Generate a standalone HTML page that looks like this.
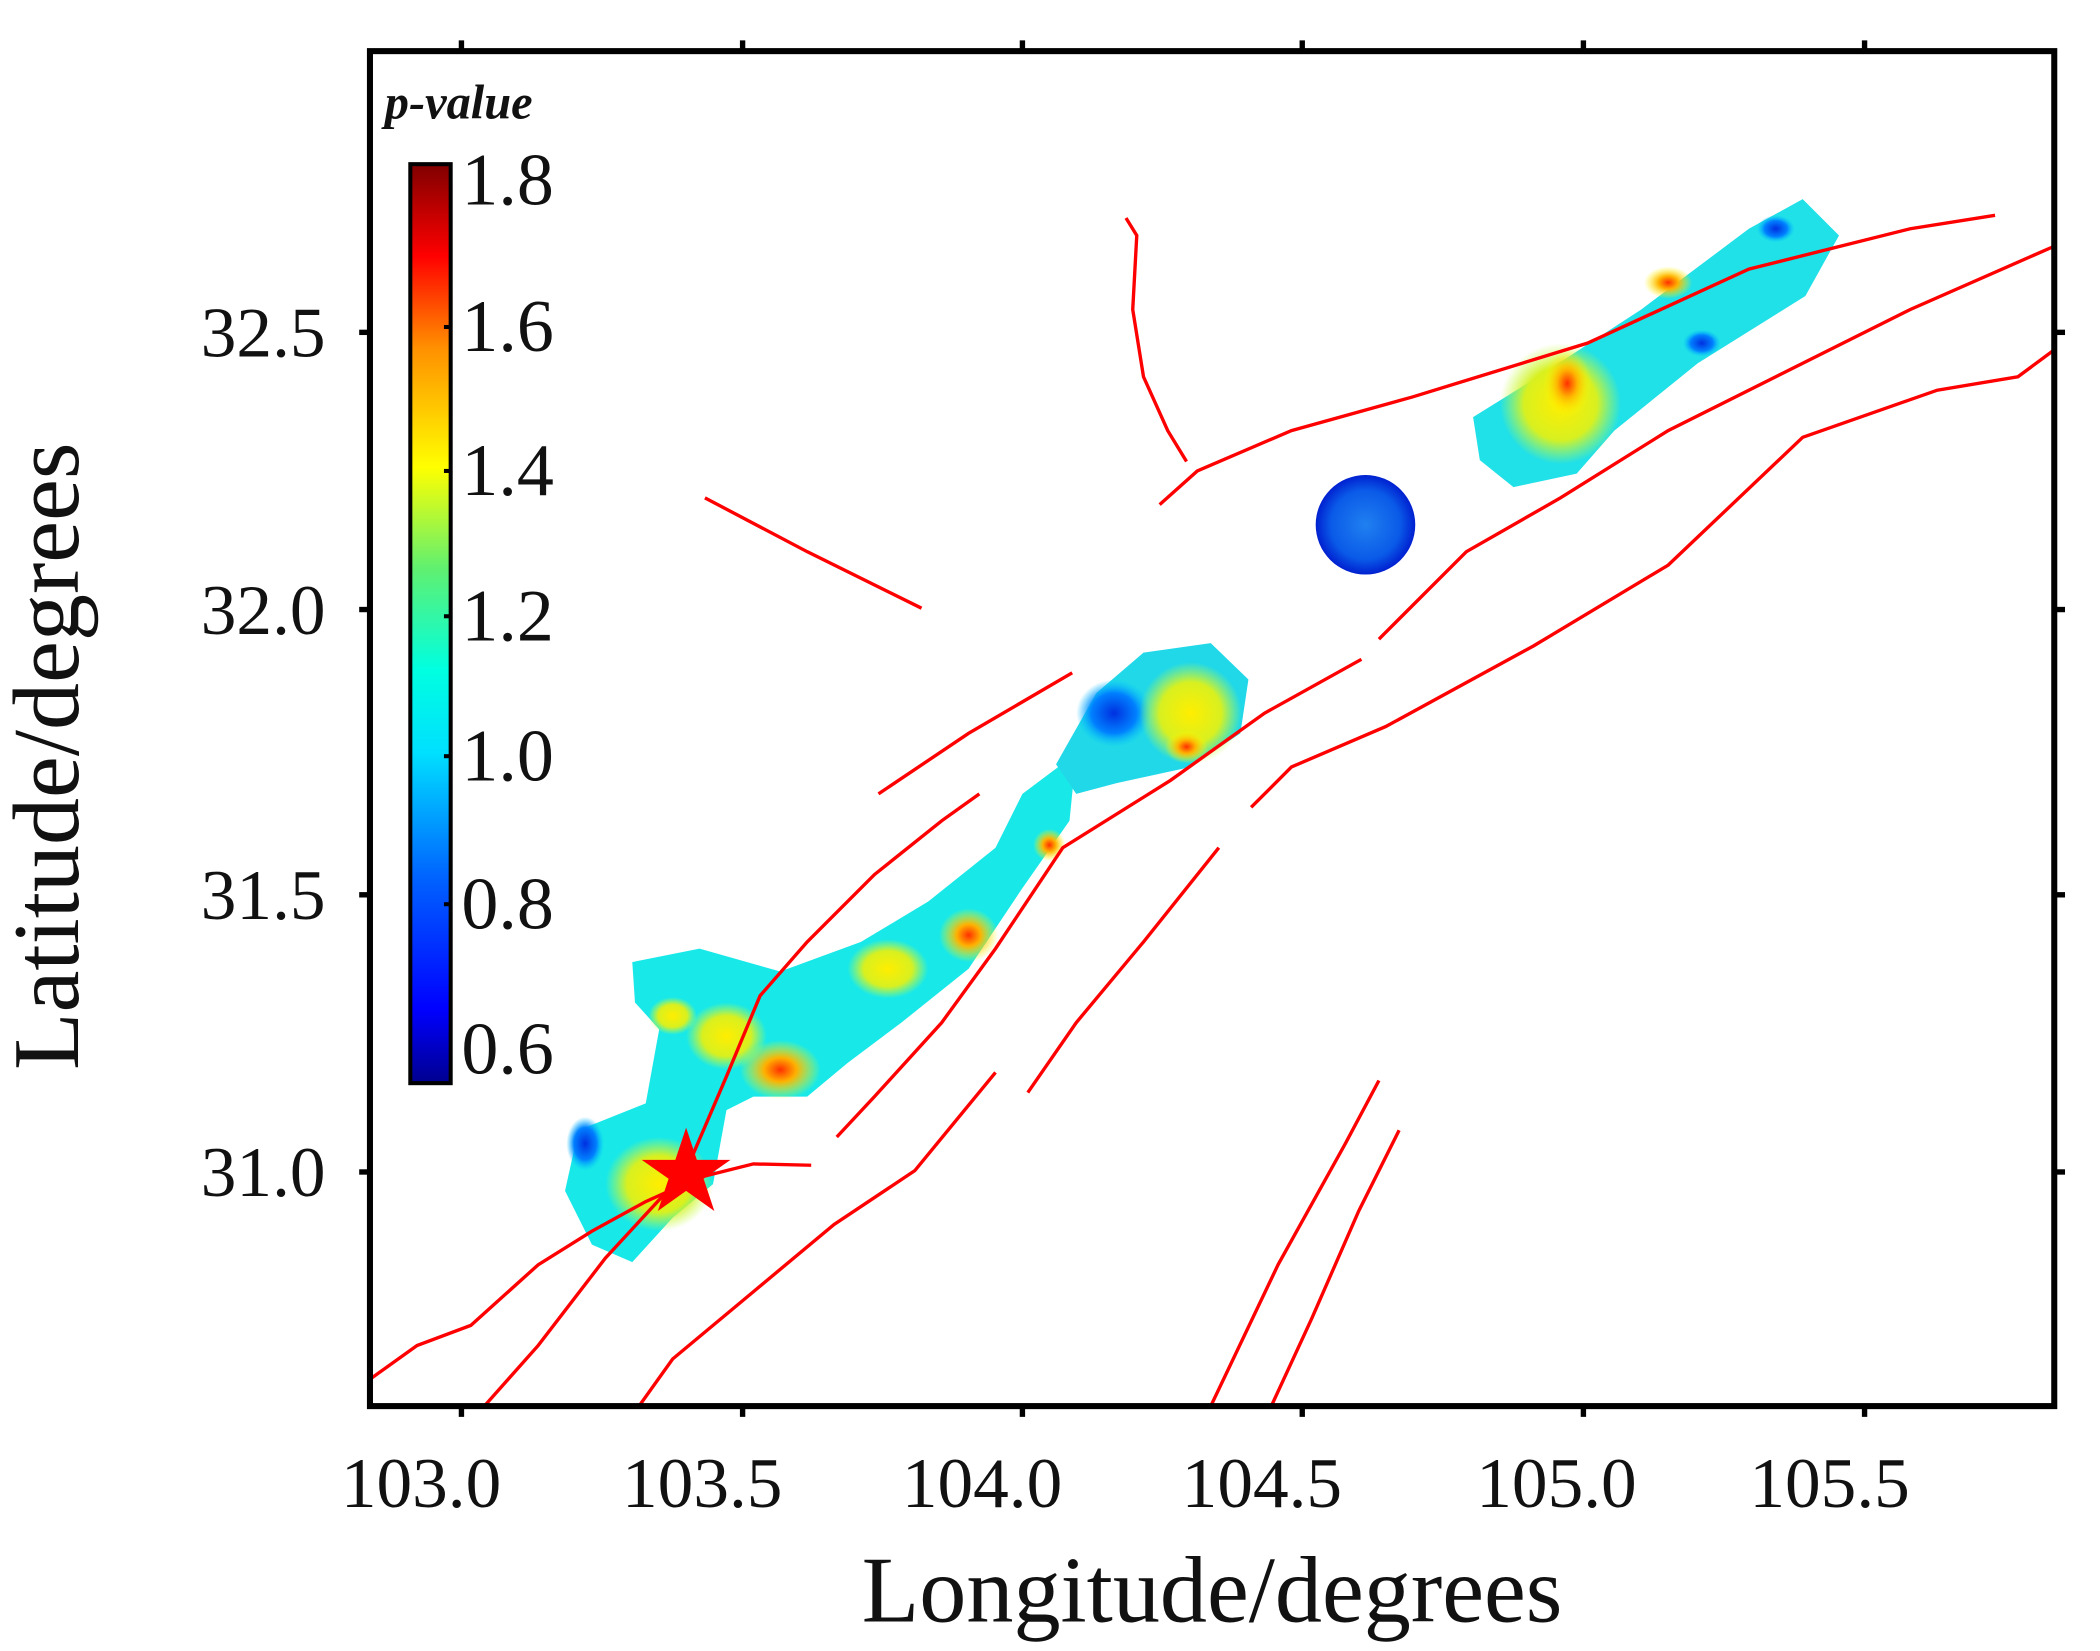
<!DOCTYPE html>
<html><head><meta charset="utf-8"><style>
html,body{margin:0;padding:0;background:#fff;}
svg{display:block;}
text{font-family:"Liberation Serif",serif;fill:#111;}
</style></head><body>
<svg width="2100" height="1651" viewBox="0 0 1561 1227" preserveAspectRatio="none" xmlns="http://www.w3.org/2000/svg">
<defs>
<linearGradient id="cb" x1="0" y1="1" x2="0" y2="0">
<stop offset="0" stop-color="#00008f"/>
<stop offset="0.08" stop-color="#0000ff"/>
<stop offset="0.22" stop-color="#0060ff"/>
<stop offset="0.36" stop-color="#00e0ff"/>
<stop offset="0.45" stop-color="#00ffe0"/>
<stop offset="0.56" stop-color="#60f070"/>
<stop offset="0.67" stop-color="#ffff00"/>
<stop offset="0.8" stop-color="#ff9000"/>
<stop offset="0.9" stop-color="#ff0000"/>
<stop offset="1" stop-color="#800000"/>
</linearGradient>
<radialGradient id="hot"><stop offset="0" stop-color="#ff3000"/><stop offset="0.4" stop-color="#ffb000"/><stop offset="1" stop-color="#ffff00" stop-opacity="0"/></radialGradient>
<radialGradient id="yel"><stop offset="0" stop-color="#ffee00"/><stop offset="0.6" stop-color="#d8f020"/><stop offset="1" stop-color="#c0ff40" stop-opacity="0"/></radialGradient>
<radialGradient id="blu"><stop offset="0" stop-color="#0030e0"/><stop offset="0.6" stop-color="#0080ff"/><stop offset="1" stop-color="#00c0ff" stop-opacity="0"/></radialGradient>
<radialGradient id="blob3"><stop offset="0" stop-color="#2080f0"/><stop offset="0.7" stop-color="#0a5ae8"/><stop offset="1" stop-color="#0020d0"/></radialGradient>
</defs>

<path d="M470,715 L520,705 L580,722 L640,700 L690,670 L740,630 L760,590 L800,560 L795,610 L760,660 L720,720 L670,760 L630,790 L600,815 L560,815 L540,825 L530,880 L500,905 L470,938 L440,925 L420,885 L430,840 L480,820 L490,765 L472,745 Z" fill="#18e8e8"/>
<ellipse cx="580" cy="795" rx="30" ry="22" fill="url(#hot)"/>
<ellipse cx="490" cy="880" rx="40" ry="35" fill="url(#yel)"/>
<ellipse cx="540" cy="770" rx="30" ry="25" fill="url(#yel)"/>
<ellipse cx="720" cy="695" rx="22" ry="20" fill="url(#hot)"/>
<ellipse cx="660" cy="720" rx="30" ry="22" fill="url(#yel)"/>
<ellipse cx="780" cy="628" rx="12" ry="12" fill="url(#hot)"/>
<ellipse cx="435" cy="850" rx="14" ry="20" fill="url(#blu)"/>
<ellipse cx="500" cy="755" rx="18" ry="14" fill="url(#yel)"/>
<path d="M785,568 L815,515 L850,485 L900,478 L928,505 L922,545 L885,570 L830,582 L800,590 Z" fill="#20d8e8"/>
<ellipse cx="828" cy="530" rx="28" ry="25" fill="url(#blu)"/>
<ellipse cx="885" cy="530" rx="38" ry="38" fill="url(#yel)"/>
<ellipse cx="882" cy="555" rx="16" ry="12" fill="url(#hot)"/>
<circle cx="1015" cy="390" r="37" fill="url(#blob3)"/>
<path d="M1095,310 L1140,282 L1220,230 L1300,170 L1340,148 L1367,175 L1342,220 L1262,270 L1200,320 L1172,352 L1125,362 L1100,342 Z" fill="#20e0e8"/>
<ellipse cx="1160" cy="300" rx="45" ry="45" fill="url(#yel)"/>
<ellipse cx="1165" cy="285" rx="18" ry="25" fill="url(#hot)"/>
<ellipse cx="1240" cy="210" rx="18" ry="12" fill="url(#hot)"/>
<ellipse cx="1320" cy="170" rx="14" ry="10" fill="url(#blu)"/>
<ellipse cx="1265" cy="255" rx="14" ry="10" fill="url(#blu)"/>

<g fill="none" stroke="#ff0000" stroke-width="2.5">
<polyline points="837,162 845,175 842,230 850,280 868,320 882,343"/>
<polyline points="862,375 890,350 960,320 1050,295 1180,255 1300,200 1420,170 1483,160"/>
<polyline points="524,370 600,410 685,452"/>
<polyline points="1025,475 1090,410 1160,370 1240,320 1320,280 1420,230 1527,183"/>
<polyline points="930,600 960,570 1030,540 1140,480 1240,420 1340,325 1440,290 1500,280 1527,260"/>
<polyline points="275,1025 310,1000 350,985 400,940 440,915 480,893 520,875 560,865 603,866"/>
<polyline points="360,1045 400,1000 450,935 510,870 540,800 565,740 600,700 650,650 700,610 728,590"/>
<polyline points="653,590 720,545 797,500"/>
<polyline points="475,1045 500,1010 560,960 620,910 680,870 740,797"/>
<polyline points="622,845 650,815 700,760 740,705 790,630 870,580 940,530 1012,490"/>
<polyline points="764,812 800,760 850,700 906,630"/>
<polyline points="900,1045 950,940 1000,850 1025,803"/>
<polyline points="945,1045 975,980 1010,900 1040,840"/>
</g>
<polygon points="510,838 518,862 543,862 523,876 531,900 510,885 489,900 497,876 477,862 502,862" fill="#ff0000"/>

<rect x="275" y="38" width="1252" height="1007" fill="none" stroke="#000" stroke-width="4.5"/>
<g stroke="#000" stroke-width="4">
<line x1="343" y1="38" x2="343" y2="30"/><line x1="552" y1="38" x2="552" y2="30"/><line x1="760" y1="38" x2="760" y2="30"/><line x1="968" y1="38" x2="968" y2="30"/><line x1="1177" y1="38" x2="1177" y2="30"/><line x1="1386" y1="38" x2="1386" y2="30"/>
<line x1="343" y1="1045" x2="343" y2="1053"/><line x1="552" y1="1045" x2="552" y2="1053"/><line x1="760" y1="1045" x2="760" y2="1053"/><line x1="968" y1="1045" x2="968" y2="1053"/><line x1="1177" y1="1045" x2="1177" y2="1053"/><line x1="1386" y1="1045" x2="1386" y2="1053"/>
<line x1="275" y1="247" x2="267" y2="247"/><line x1="275" y1="453" x2="267" y2="453"/><line x1="275" y1="665" x2="267" y2="665"/><line x1="275" y1="871" x2="267" y2="871"/>
<line x1="1527" y1="247" x2="1535" y2="247"/><line x1="1527" y1="453" x2="1535" y2="453"/><line x1="1527" y1="665" x2="1535" y2="665"/><line x1="1527" y1="871" x2="1535" y2="871"/>
</g>
<g font-size="53" text-anchor="middle">
<text x="313" y="1120">103.0</text><text x="522" y="1120">103.5</text><text x="730" y="1120">104.0</text><text x="938" y="1120">104.5</text><text x="1157" y="1120">105.0</text><text x="1360" y="1120">105.5</text>
</g>
<g font-size="53" text-anchor="end">
<text x="242" y="265">32.5</text><text x="242" y="471">32.0</text><text x="242" y="683">31.5</text><text x="242" y="889">31.0</text>
</g>
<text x="901" y="1205" font-size="70" text-anchor="middle">Longitude/degrees</text>
<text transform="translate(58,562) rotate(-90)" font-size="70" text-anchor="middle">Latitude/degrees</text>

<rect x="305" y="122" width="30" height="683" fill="url(#cb)" stroke="#000" stroke-width="3"/>
<g stroke="#000" stroke-width="3">
<line x1="330" y1="243" x2="335" y2="243"/><line x1="330" y1="350" x2="335" y2="350"/><line x1="330" y1="458" x2="335" y2="458"/><line x1="330" y1="562" x2="335" y2="562"/><line x1="330" y1="672" x2="335" y2="672"/>
</g>
<g font-size="55">
<text x="343" y="152">1.8</text><text x="343" y="261">1.6</text><text x="343" y="368">1.4</text><text x="343" y="476">1.2</text><text x="343" y="580">1.0</text><text x="343" y="690">0.8</text><text x="343" y="798">0.6</text>
</g>
<text x="286" y="88" font-size="36" font-style="italic" font-weight="bold" fill="#333">p-value</text>
</svg>
</body></html>
